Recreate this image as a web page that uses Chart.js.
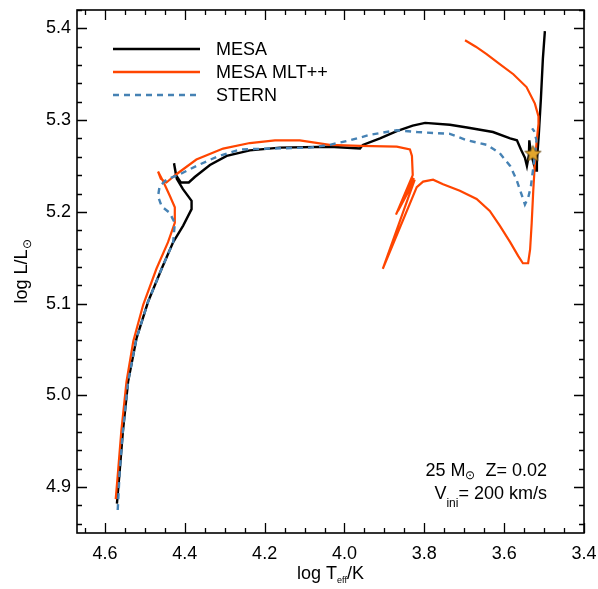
<!DOCTYPE html>
<html>
<head>
<meta charset="utf-8">
<script src="https://cdn.jsdelivr.net/npm/chart.js@4/dist/chart.umd.min.js"></script>
<style>
html,body{margin:0;padding:0;background:#fff;}
#wrap{width:598px;height:589px;}
</style>
</head>
<body>
<div id="wrap"><canvas id="c" width="598" height="589"></canvas></div>
<script>
// ---- data (log Teff, log L) ----
const mesaT = [4.570,4.563,4.555,4.542,4.521,4.492,4.458,4.429,4.404,4.383,4.383,4.405,4.420,4.427,4.422,4.410,4.390,4.375,4.337,4.295,4.237,4.162,4.037,3.961,3.954,3.911,3.869,3.829,3.798,3.736,3.693,3.628,3.585,3.568,3.558,3.548,3.543,3.538,3.537,3.533,3.525,3.520,3.518,3.513,3.508,3.503,3.498];
const mesaL = [4.882,4.918,4.961,5.015,5.062,5.102,5.138,5.167,5.185,5.203,5.212,5.225,5.236,5.253,5.240,5.232,5.232,5.238,5.251,5.261,5.267,5.270,5.271,5.269,5.273,5.280,5.288,5.294,5.297,5.295,5.292,5.287,5.280,5.278,5.268,5.259,5.250,5.262,5.278,5.264,5.251,5.245,5.255,5.286,5.323,5.367,5.397];

const mltT = [4.573,4.567,4.559,4.546,4.529,4.504,4.471,4.442,4.425,4.425,4.437,4.454,4.467,4.460,4.446,4.421,4.371,4.304,4.237,4.174,4.112,4.037,3.961,3.869,3.836,3.831,3.829,3.871,3.826,3.866,3.824,3.904,3.819,3.803,3.778,3.753,3.711,3.669,3.636,3.611,3.585,3.565,3.553,3.540,3.535,3.531,3.527,3.523,3.519,3.514,3.514,3.523,3.544,3.577,3.611,3.644,3.671,3.698];
const mltL = [4.887,4.918,4.961,5.015,5.059,5.099,5.138,5.167,5.188,5.205,5.217,5.233,5.244,5.236,5.232,5.241,5.257,5.269,5.275,5.278,5.278,5.273,5.272,5.271,5.268,5.261,5.240,5.197,5.237,5.201,5.235,5.138,5.227,5.233,5.235,5.230,5.223,5.214,5.201,5.185,5.167,5.152,5.144,5.144,5.159,5.188,5.224,5.253,5.275,5.296,5.304,5.318,5.336,5.350,5.361,5.372,5.380,5.387];

const sternT = [4.568,4.563,4.555,4.542,4.521,4.492,4.458,4.429,4.425,4.438,4.458,4.467,4.463,4.446,4.412,4.371,4.320,4.262,4.187,4.087,4.037,3.986,3.936,3.869,3.818,3.778,3.736,3.693,3.643,3.611,3.585,3.569,3.558,3.548,3.540,3.533,3.528,3.523,3.519,3.525,3.530];
const sternL = [4.875,4.918,4.961,5.015,5.062,5.102,5.138,5.167,5.188,5.199,5.206,5.217,5.228,5.235,5.241,5.250,5.260,5.268,5.269,5.270,5.273,5.278,5.284,5.289,5.287,5.286,5.285,5.278,5.273,5.264,5.250,5.235,5.221,5.208,5.215,5.228,5.245,5.262,5.278,5.288,5.291];

const starT = [3.528];
const starL = [5.264];

const seriesNames = ["MESA", "MESA MLT++", "STERN"];
const xTickLabels = [4.6, 4.4, 4.2, 4.0, 3.8, 3.6, 3.4];
const yTickLabels = [4.9, 5.0, 5.1, 5.2, 5.3, 5.4];
const xRange = [3.4, 4.67];
const yRange = [4.85, 5.42];

// ---- helpers ----
const FONT = '"Liberation Sans", Arial, Helvetica, sans-serif';
const pts = (X, Y) => X.map((x, i) => ({x: x, y: Y[i]}));

function makeStar(size) {
  const c = document.createElement('canvas');
  c.width = size; c.height = size;
  const g = c.getContext('2d');
  const cx = size/2, cy = size/2 + 0.8, R = size/2 - 1, r = R*0.45;
  g.beginPath();
  for (let i = 0; i < 10; i++) {
    const a = -Math.PI/2 + i*Math.PI/5;
    const rr = i % 2 === 0 ? R : r;
    const px = cx + rr*Math.cos(a), py = cy + rr*Math.sin(a);
    if (i === 0) g.moveTo(px, py); else g.lineTo(px, py);
  }
  g.closePath();
  g.fillStyle = '#E2A62C';
  g.fill();
  g.lineWidth = 0.8;
  g.strokeStyle = '#5a4012';
  g.stroke();
  return c;
}

const COLORS = ['#000000', '#FF4500', '#4682B4'];

const decor = {
  id: 'decor',
  afterDraw(chart) {
    const ctx = chart.ctx;
    const a = chart.chartArea;
    const xs = chart.scales.x, ys = chart.scales.y;
    ctx.save();
    // frame
    ctx.strokeStyle = '#000';
    ctx.lineWidth = 1.6;
    ctx.strokeRect(a.left, a.top, a.right - a.left, a.bottom - a.top);
    // ticks (inside, mirrored)
    ctx.lineWidth = 1.3;
    ctx.beginPath();
    for (let k = 0; ; k++) {
      const v = Math.round((xRange[0] + k*0.05)*100)/100;
      if (v > xRange[1] + 1e-9) break;
      const major = Math.abs(Math.round(v*5) - v*5) < 1e-6;
      const len = major ? 10 : 5;
      const px = Math.round(xs.getPixelForValue(v)) + 0.5;
      ctx.moveTo(px, a.bottom); ctx.lineTo(px, a.bottom - len);
      ctx.moveTo(px, a.top); ctx.lineTo(px, a.top + len);
    }
    for (let k = 0; ; k++) {
      const vv = Math.round((yRange[0] + 0.01 + k*0.02)*100)/100;
      if (vv > yRange[1] + 1e-9) break;
      const major = Math.abs(Math.round(vv*10) - vv*10) < 1e-6;
      const len = major ? 10 : 5;
      const py = Math.round(ys.getPixelForValue(vv)) + 0.5;
      ctx.moveTo(a.left, py); ctx.lineTo(a.left + len, py);
      ctx.moveTo(a.right, py); ctx.lineTo(a.right - len, py);
    }
    ctx.stroke();

    // legend
    const ly = [49, 72, 95];
    for (let i = 0; i < 3; i++) {
      ctx.beginPath();
      ctx.strokeStyle = COLORS[i];
      ctx.lineWidth = 2.4;
      ctx.setLineDash(i === 2 ? [6, 5] : []);
      ctx.moveTo(113, ly[i]); ctx.lineTo(200, ly[i]);
      ctx.stroke();
    }
    ctx.setLineDash([]);
    ctx.fillStyle = '#000';
    ctx.font = '18px ' + FONT;
    ctx.textBaseline = 'middle';
    ctx.textAlign = 'left';
    for (let i = 0; i < 3; i++) ctx.fillText(seriesNames[i], 216, ly[i] + 1);

    // rich text helper
    function drawRich(parts, x, y, align) {
      ctx.textBaseline = 'alphabetic';
      ctx.textAlign = 'left';
      let w = 0;
      parts.forEach(p => { ctx.font = p.size + 'px ' + FONT; w += ctx.measureText(p.t).width; });
      let cx = align === 'right' ? x - w : align === 'center' ? x - w/2 : x;
      parts.forEach(p => {
        ctx.font = p.size + 'px ' + FONT;
        ctx.fillText(p.t, cx, y + (p.dy || 0));
        cx += ctx.measureText(p.t).width;
      });
    }
    // x title
    drawRich([{t:'log T', size:18}, {t:'eff', size:9, dy:4}, {t:'/K', size:18}], (a.left + a.right)/2, 579, 'center');
    // y title
    ctx.save();
    ctx.translate(27, (a.top + a.bottom)/2);
    ctx.rotate(-Math.PI/2);
    drawRich([{t:'log L/L', size:18}, {t:'\u2299', size:12, dy:4}], 0, 0, 'center');
    ctx.restore();
    // annotation
    drawRich([{t:'25 M', size:18}, {t:'\u2299', size:12, dy:3}, {t:'  Z= 0.02', size:18}], 547, 476, 'right');
    drawRich([{t:'V', size:18}, {t:'ini', size:12, dy:8}, {t:'= 200 km/s', size:18}], 547, 499, 'right');
    ctx.restore();
  }
};

const starImg = makeStar(19);

new Chart(document.getElementById('c'), {
  type: 'scatter',
  data: {
    datasets: [
      {label: 'star', data: pts(starT, starL), pointStyle: starImg, pointRadius: 9, showLine: false, order: -1},
      {label: seriesNames[2], data: pts(sternT, sternL), showLine: true, borderColor: COLORS[2], borderWidth: 2.4, borderDash: [6, 5], pointRadius: 0, order: 0, tension: 0},
      {label: seriesNames[1], data: pts(mltT, mltL), showLine: true, borderColor: COLORS[1], borderWidth: 2.2, pointRadius: 0, order: 1, tension: 0},
      {label: seriesNames[0], data: pts(mesaT, mesaL), showLine: true, borderColor: COLORS[0], borderWidth: 2.4, pointRadius: 0, order: 2, tension: 0}
    ]
  },
  options: {
    responsive: false,
    animation: false,
    layout: {padding: {left: 0, right: 14, top: 8, bottom: 0}},
    plugins: {legend: {display: false}, tooltip: {enabled: false}},
    scales: {
      x: {
        type: 'linear', reverse: true, min: xRange[0], max: xRange[1],
        grid: {display: false, drawTicks: false}, border: {display: false},
        afterBuildTicks: s => { s.ticks = xTickLabels.map(v => ({value: v})); },
        afterFit: s => { s.height = 56; s.paddingLeft = 0; s.paddingRight = 0; },
        ticks: {font: {size: 18, family: FONT}, color: '#000', padding: 10, maxRotation: 0, autoSkip: false,
                callback: v => Number(v).toFixed(1)}
      },
      y: {
        type: 'linear', min: yRange[0], max: yRange[1],
        grid: {display: false, drawTicks: false}, border: {display: false},
        afterBuildTicks: s => { s.ticks = yTickLabels.map(v => ({value: v})); },
        afterFit: s => { s.width = 77; s.paddingTop = 0; s.paddingBottom = 0; },
        ticks: {font: {size: 18, family: FONT}, color: '#000', padding: 6, autoSkip: false,
                callback: v => Number(v).toFixed(1)}
      }
    }
  },
  plugins: [decor]
});
</script>
</body>
</html>
